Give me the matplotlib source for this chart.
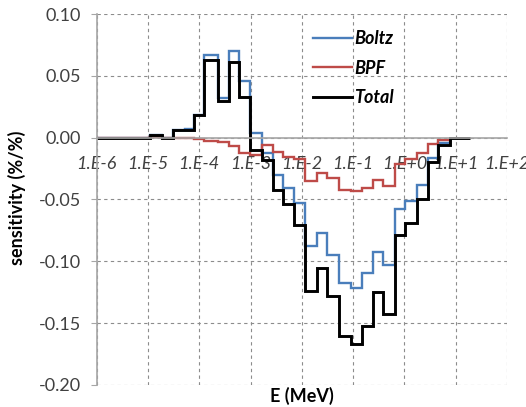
import numpy as np
import matplotlib.pyplot as plt
from matplotlib.ticker import FixedLocator, NullLocator

# --- group boundaries (MeV) and sensitivities ---
edges = [1e-6, 1.09e-5, 1.85e-5, 3.11e-5, 5.26e-5, 8.0e-5, 1.24e-4, 2.29e-4,
         3.85e-4, 6.03e-4, 9.7e-4, 1.64e-3, 2.7e-3, 4.34e-3, 7.0e-3, 1.17e-2,
         1.93e-2, 3.08e-2, 5.36e-2, 9.06e-2, 0.147, 0.24, 0.39, 0.653, 1.02,
         1.73, 2.91, 4.56, 7.7, 18.9]

boltz = [0.0, 0.002, 0.0, 0.0065, 0.007, 0.0186, 0.067, 0.032, 0.070, 0.0456,
         0.004, -0.012, -0.030, -0.041, -0.053, -0.088, -0.077, -0.0947,
         -0.1175, -0.1216, -0.1095, -0.0925, -0.1027, -0.0577, -0.051, -0.038,
         -0.0165, -0.004]

bpf = [0.0, 0.0005, 0.0, 0.0, -0.0005, -0.001, -0.003, -0.0035, -0.007,
       -0.0124, -0.0138, -0.0057, -0.0115, -0.0155, -0.017, -0.0348, -0.0286,
       -0.033, -0.042, -0.0434, -0.0406, -0.034, -0.039, -0.021, -0.017,
       -0.012, -0.005, -0.002]

total = [0.0, 0.0025, 0.0, 0.0065, 0.0065, 0.018, 0.063, 0.030, 0.061, 0.033,
         -0.010, -0.018, -0.042, -0.054, -0.0704, -0.1242, -0.1052, -0.128,
         -0.1607, -0.1667, -0.152, -0.1252, -0.1424, -0.079, -0.069, -0.050,
         -0.020, -0.0057, 0.0]

xticks = [1e-6, 1e-5, 1e-4, 1e-3, 1e-2, 1e-1, 1e0, 1e1, 1e2]
xlabels = ['1.E-6', '1.E-5', '1.E-4', '1.E-3', '1.E-2', '1.E-1', '1.E+0', '1.E+1', '1.E+2']
yticks = [-0.20, -0.15, -0.10, -0.05, 0.00, 0.05, 0.10]

plt.rcParams['font.family'] = ['Lato', 'DejaVu Sans']
FS = 13

fig = plt.figure(figsize=(5.26, 4.07), dpi=100)
ax = fig.add_axes([0.1838, 0.0541, 0.7802, 0.9115])

ax.stairs(boltz, edges[:len(boltz) + 1], color='#4a7ebb', lw=1.7, label='Boltz')
ax.stairs(bpf, edges[:len(bpf) + 1], color='#be4b48', lw=1.7, label='BPF')
ax.stairs(total, edges, color='black', lw=2.1, label='Total')

ax.set_xscale('log')
ax.set_xlim(1e-6, 1e2)
ax.set_ylim(-0.20, 0.10)

# spines first: moving the bottom spine resets the ticks
for s in ['top', 'right']:
    ax.spines[s].set_visible(False)
ax.spines['bottom'].set_position(('data', 0))
ax.spines['bottom'].set_color('#a6a6a6')
ax.spines['bottom'].set_linewidth(1.2)
ax.spines['left'].set_color('#a6a6a6')
ax.spines['left'].set_linewidth(1.2)

ax.xaxis.set_major_locator(FixedLocator(xticks))
ax.xaxis.set_minor_locator(NullLocator())
ax.set_xticklabels(xlabels, fontsize=FS, style='italic', color='#404040')
ax.set_yticks(yticks)
ax.set_yticklabels(['%.2f' % v for v in yticks], fontsize=FS, color='#404040')
ax.tick_params(axis='x', length=0, pad=13)
ax.tick_params(axis='y', length=4.5, color='#a6a6a6', pad=7)

ax.grid(True, color='#8c8c8c', linestyle=(0, (3, 3)), lw=0.8)
ax.set_axisbelow(True)

ax.set_xlabel('E (MeV)', fontsize=FS, fontweight='bold')
ax.xaxis.set_label_coords(0.5, -0.005)
fig.text(16.7 / 526, 1 - 198 / 407, 'sensitivity (%/%)', rotation=90,
         ha='center', va='center', fontsize=FS, fontweight='bold')

ax.legend(loc='upper left', bbox_to_anchor=(312.7 / 526, 1 - 30 / 407),
          bbox_transform=fig.transFigure, frameon=False, borderpad=0,
          borderaxespad=0, handlelength=2.15, handletextpad=0.15,
          labelspacing=0.7, prop={'size': FS, 'weight': 'bold', 'style': 'italic'})

fig.savefig('out.png', dpi=100)
